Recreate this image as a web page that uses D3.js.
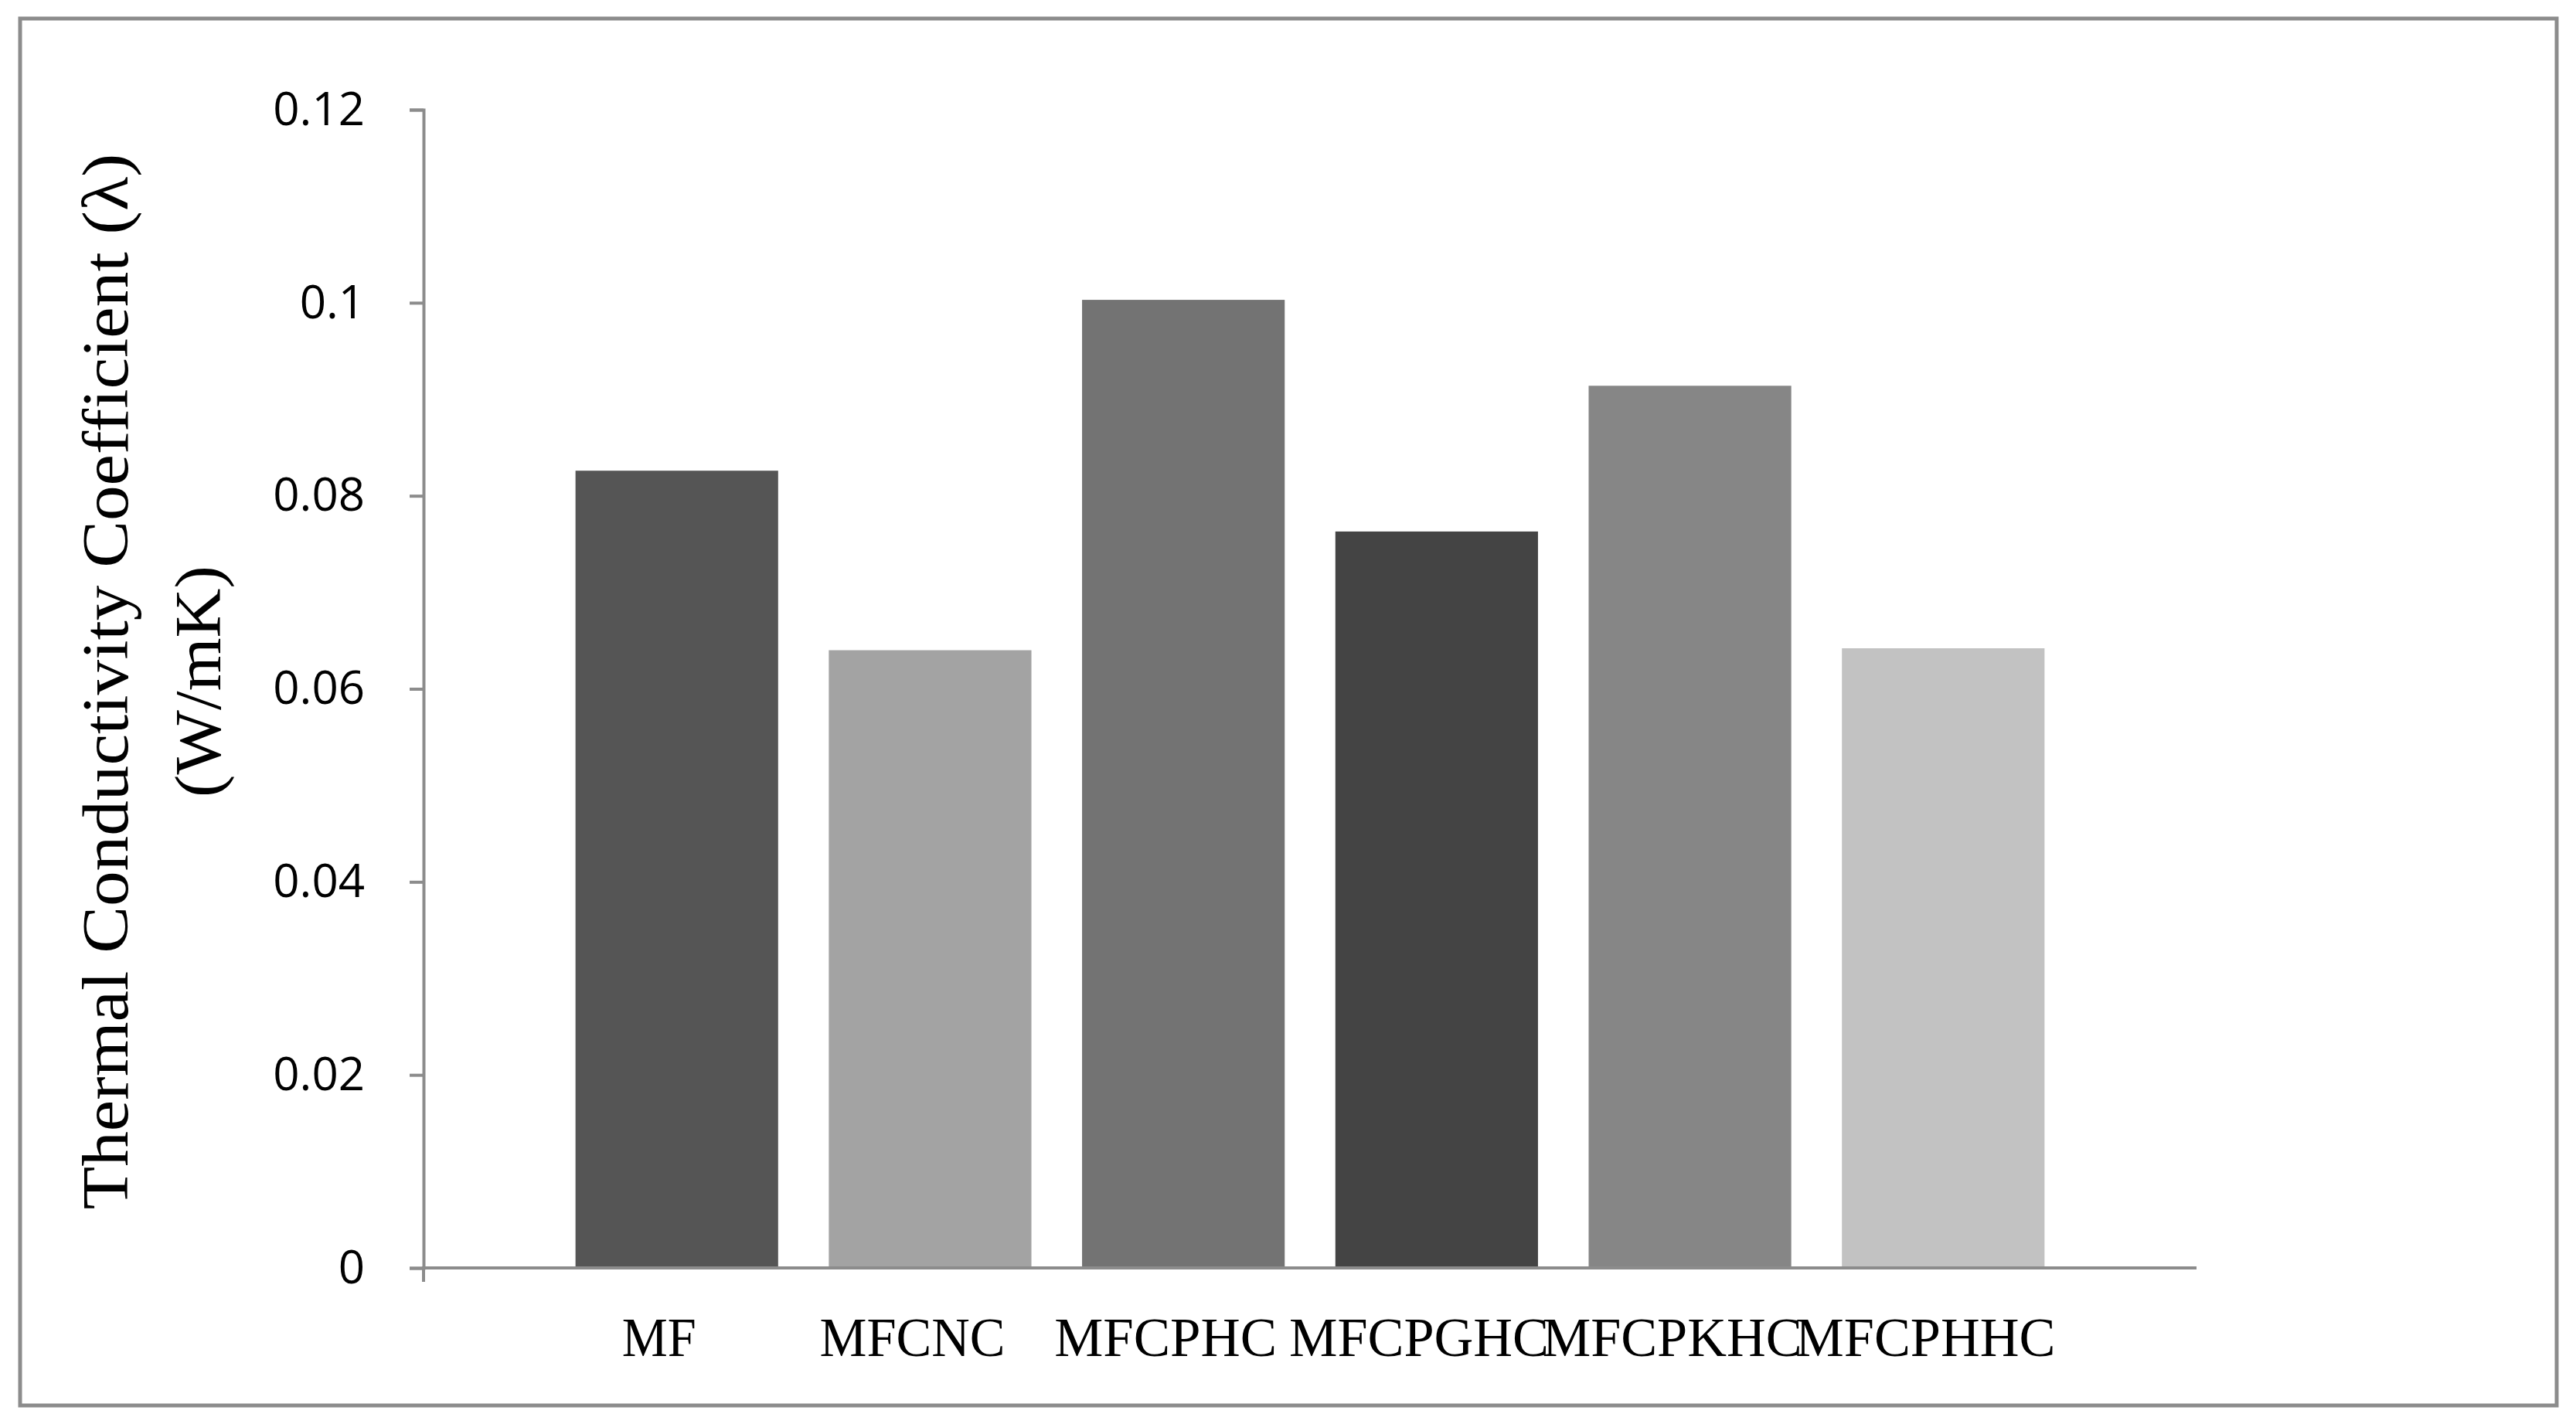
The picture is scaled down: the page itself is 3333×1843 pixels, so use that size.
<!DOCTYPE html>
<html><head><meta charset="utf-8">
<script src="https://cdn.jsdelivr.net/npm/d3@7"></script>
<style>body{margin:0;background:#fff}</style></head>
<body><svg id="c" width="3333" height="1843"></svg>
<script>
const categories = ["MF","MFCNC","MFCPHC","MFCPGHC","MFCPKHC","MFCPHHC"];
const values = [0.0826,0.0640,0.1003,0.0763,0.0914,0.0642];
const colors = ["#555555","#a3a3a3","#737373","#444444","#868686","#c2c2c2"];
const yTicks = [0,0.02,0.04,0.06,0.08,0.1,0.12];
const yTickLabels = ["0","0.02","0.04","0.06","0.08","0.1","0.12"];

const svg = d3.select("#c");
const L=548,R=2842,T=142,B=1641;
svg.append("rect").attr("x",26).attr("y",24).attr("width",3282).attr("height",1795)
  .attr("fill","none").attr("stroke","#8c8c8c").attr("stroke-width",5);
const x = d3.scalePoint().domain(categories).range([L,R]).padding(1);
const step = x.step();
const y = d3.scaleLinear().domain([0,0.12]).range([B,T]);

svg.selectAll("rect.bar").data(values).enter().append("rect").attr("class","bar")
  .attr("x",(d,i)=>x(categories[i])-step*0.4).attr("width",step*0.8)
  .attr("y",d=>y(d)).attr("height",d=>B-y(d)).attr("fill",(d,i)=>colors[i]);

const ya = svg.append("g").attr("transform",`translate(${L},0)`)
  .call(d3.axisLeft(y).tickValues(yTicks).tickFormat((d,i)=>yTickLabels[i]).tickSize(18).tickPadding(58));
ya.select(".domain").attr("stroke","#8c8c8c").attr("stroke-width",4);
ya.selectAll(".tick line").attr("stroke","#8c8c8c").attr("stroke-width",4);
ya.selectAll(".tick text").attr("font-family","'Open Sans',sans-serif").attr("font-size",60).attr("fill","#000");

const xa = svg.append("g").attr("transform",`translate(0,${B})`)
  .call(d3.axisBottom(x).tickSize(0).tickPadding(0).tickFormat(""));
xa.select(".domain").attr("d",`M${L},18V0H${R}`).attr("stroke","#8c8c8c").attr("stroke-width",4).attr("fill","none");

svg.selectAll("text.xl").data(categories).enter().append("text").attr("class","xl")
  .attr("x",d=>x(d)-step*0.07).attr("y",1755).attr("text-anchor","middle")
  .attr("font-family","'Liberation Serif',serif").attr("font-size",72)
  .attr("textLength",d=>d.length*48).attr("lengthAdjust","spacingAndGlyphs").text(d=>d);

const g = svg.append("g").attr("transform","translate(0,882) rotate(-90)");
g.append("text").attr("x",0).attr("y",165).attr("text-anchor","middle")
  .attr("font-family","'Liberation Serif',serif").attr("font-size",84)
  .attr("textLength",1367).attr("lengthAdjust","spacingAndGlyphs")
  .text("Thermal Conductivity Coefficient (λ)");
g.append("text").attr("x",0).attr("y",285).attr("text-anchor","middle")
  .attr("font-family","'Liberation Serif',serif").attr("font-size",84)
  .attr("textLength",300).attr("lengthAdjust","spacingAndGlyphs")
  .text("(W/mK)");
</script></body></html>
